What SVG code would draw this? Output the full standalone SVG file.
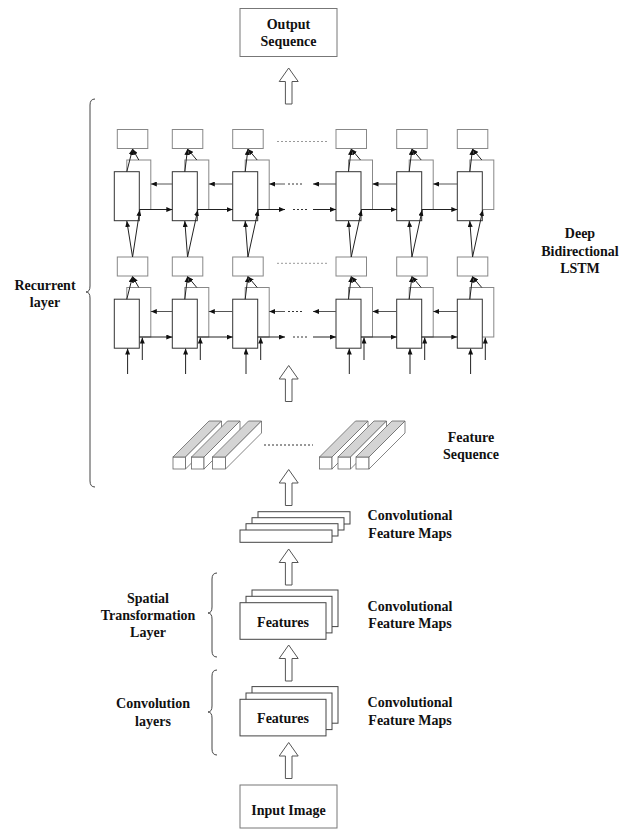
<svg xmlns="http://www.w3.org/2000/svg" width="620" height="829" viewBox="0 0 620 829">
<style>
.lbl{font-family:"Liberation Serif","Times New Roman",serif;font-weight:bold;font-size:14px;fill:#111;text-anchor:middle}
.box{fill:#fff;stroke:#777;stroke-width:1}
.front{fill:#fff;stroke:#333;stroke-width:1}
.back{fill:#fff;stroke:#888;stroke-width:1}
.obox{fill:#fff;stroke:#888;stroke-width:1}
.ln{stroke:#222;stroke-width:1;fill:none}
.lg{stroke:#555;stroke-width:1;fill:none}
.dot{stroke:#999;stroke-width:1;stroke-dasharray:2,2;fill:none}
.dotk{stroke:#333;stroke-width:1;stroke-dasharray:2,2;fill:none}
.blk{fill:#fff;stroke:#555;stroke-width:1}
.brace{fill:none;stroke:#444;stroke-width:1}
.top{fill:#d4d4d4;stroke:#666;stroke-width:0.8}
.side{fill:#fff;stroke:#666;stroke-width:0.8}
.map{fill:#fff;stroke:#444;stroke-width:1}
</style>
<defs>
<marker id="ah" markerWidth="6" markerHeight="5" refX="6" refY="2.5" orient="auto" markerUnits="userSpaceOnUse"><path d="M0,0 L6,2.5 L0,5 Z" fill="#111"/></marker>
<path id="blkarrow" d="M0,0 L9.5,13.5 L3.3,13.5 L3.3,36 L-3.3,36 L-3.3,13.5 L-9.5,13.5 Z"/>
</defs>
<rect width="620" height="829" fill="#fff"/>

<g id="output-sequence">
<rect class="box" x="240" y="8.5" width="97" height="48"/>
<text class="lbl" x="288.5" y="29">Output</text>
<text class="lbl" x="288.5" y="46">Sequence</text>
</g>

<!-- LSTM layer 1 -->
<g id="l1c1" transform="translate(114.3,129.5)"><rect class="obox" x="3" y="0" width="30.5" height="19"/><rect class="back" x="12.5" y="30.5" width="24" height="49.5"/><rect class="front" x="0" y="42.2" width="25" height="49"/></g>
<g id="l1c2" transform="translate(172.3,129.5)"><rect class="obox" x="0" y="0" width="30.5" height="19"/><rect class="back" x="12.5" y="30.5" width="24" height="49.5"/><rect class="front" x="0" y="42.2" width="25" height="49"/></g>
<g id="l1c3" transform="translate(232.7,129.5)"><rect class="obox" x="0" y="0" width="30.5" height="19"/><rect class="back" x="12.5" y="30.5" width="24" height="49.5"/><rect class="front" x="0" y="42.2" width="25" height="49"/></g>
<g id="l1c4" transform="translate(336,129.5)"><rect class="obox" x="0" y="0" width="30.5" height="19"/><rect class="back" x="12.5" y="30.5" width="24" height="49.5"/><rect class="front" x="0" y="42.2" width="25" height="49"/></g>
<g id="l1c5" transform="translate(396.7,129.5)"><rect class="obox" x="0" y="0" width="30.5" height="19"/><rect class="back" x="12.5" y="30.5" width="24" height="49.5"/><rect class="front" x="0" y="42.2" width="25" height="49"/></g>
<g id="l1c6" transform="translate(457.3,129.5)"><rect class="obox" x="0" y="0" width="30.5" height="19"/><rect class="back" x="12.5" y="30.5" width="24" height="49.5"/><rect class="front" x="0" y="42.2" width="25" height="49"/></g>

<!-- LSTM layer 2 -->
<g id="l2c1" transform="translate(114.3,257)"><rect class="obox" x="3" y="0" width="30.5" height="19"/><rect class="back" x="12.5" y="30.5" width="24" height="49.5"/><rect class="front" x="0" y="42.2" width="25" height="49"/></g>
<g id="l2c2" transform="translate(172.3,257)"><rect class="obox" x="0" y="0" width="30.5" height="19"/><rect class="back" x="12.5" y="30.5" width="24" height="49.5"/><rect class="front" x="0" y="42.2" width="25" height="49"/></g>
<g id="l2c3" transform="translate(232.7,257)"><rect class="obox" x="0" y="0" width="30.5" height="19"/><rect class="back" x="12.5" y="30.5" width="24" height="49.5"/><rect class="front" x="0" y="42.2" width="25" height="49"/></g>
<g id="l2c4" transform="translate(336,257)"><rect class="obox" x="0" y="0" width="30.5" height="19"/><rect class="back" x="12.5" y="30.5" width="24" height="49.5"/><rect class="front" x="0" y="42.2" width="25" height="49"/></g>
<g id="l2c5" transform="translate(396.7,257)"><rect class="obox" x="0" y="0" width="30.5" height="19"/><rect class="back" x="12.5" y="30.5" width="24" height="49.5"/><rect class="front" x="0" y="42.2" width="25" height="49"/></g>
<g id="l2c6" transform="translate(457.3,257)"><rect class="obox" x="0" y="0" width="30.5" height="19"/><rect class="back" x="12.5" y="30.5" width="24" height="49.5"/><rect class="front" x="0" y="42.2" width="25" height="49"/></g>

<g id="feature-sequence">
<rect class="side" x="173" y="457" width="12.5" height="12"/>
<polygon class="top" points="173,457 209,421 221.5,421 185.5,457"/>
<polygon class="side" points="185.5,457 221.5,421 221.5,433 185.5,469"/>
<rect class="side" x="191.5" y="457" width="12.5" height="12"/>
<polygon class="top" points="191.5,457 227.5,421 240,421 204,457"/>
<polygon class="side" points="204,457 240,421 240,433 204,469"/>
<rect class="side" x="212.5" y="457" width="13" height="12"/>
<polygon class="top" points="212.5,457 248.5,421 261.5,421 225.5,457"/>
<polygon class="side" points="225.5,457 261.5,421 261.5,433 225.5,469"/>
<line class="dotk" x1="264" y1="445" x2="313" y2="445" stroke-dasharray="1.5,1.5" stroke-width="1.5"/>
<rect class="side" x="319.5" y="457" width="12.5" height="12"/>
<polygon class="top" points="319.5,457 355.5,421 368,421 332,457"/>
<polygon class="side" points="332,457 368,421 368,433 332,469"/>
<rect class="side" x="338" y="457" width="12.5" height="12"/>
<polygon class="top" points="338,457 374,421 386.5,421 350.5,457"/>
<polygon class="side" points="350.5,457 386.5,421 386.5,433 350.5,469"/>
<rect class="side" x="356" y="457" width="13" height="12"/>
<polygon class="top" points="356,457 392,421 405,421 369,457"/>
<polygon class="side" points="369,457 405,421 405,433 369,469"/>
</g>

<g id="conv-feature-maps-3">
<rect class="map" x="258" y="511.7" width="92" height="12.3"/>
<rect class="map" x="252" y="517.7" width="92" height="12.3"/>
<rect class="map" x="246" y="523.7" width="92" height="12.3"/>
<rect class="map" x="240" y="530" width="92" height="12.3"/>
</g>

<g id="features-stn">
<rect class="map" x="252" y="590" width="86" height="36.6"/>
<rect class="map" x="246" y="596.3" width="86" height="36.6"/>
<rect class="map" x="240" y="602.7" width="86" height="36.6"/>
<text class="lbl" x="283" y="626.5">Features</text>
</g>

<g id="features-conv">
<rect class="map" x="252" y="686.6" width="86" height="36.6"/>
<rect class="map" x="246" y="693" width="86" height="36.6"/>
<rect class="map" x="240" y="699.3" width="86" height="36.6"/>
<text class="lbl" x="283" y="723">Features</text>
</g>

<g id="input-image">
<rect class="box" x="240" y="785" width="97" height="43"/>
<text class="lbl" x="288.5" y="815">Input Image</text>
</g>

<g id="labels">
<text class="lbl" x="45" y="289.5">Recurrent</text>
<text class="lbl" x="45" y="306.5">layer</text>
<text class="lbl" x="580" y="238">Deep</text>
<text class="lbl" x="580" y="255.7">Bidirectional</text>
<text class="lbl" x="580" y="273.4">LSTM</text>
<text class="lbl" x="471" y="441.7">Feature</text>
<text class="lbl" x="471" y="459">Sequence</text>
<text class="lbl" x="410" y="520">Convolutional</text>
<text class="lbl" x="410" y="537.5">Feature Maps</text>
<text class="lbl" x="410" y="610.7">Convolutional</text>
<text class="lbl" x="410" y="628.3">Feature Maps</text>
<text class="lbl" x="410" y="707.3">Convolutional</text>
<text class="lbl" x="410" y="725">Feature Maps</text>
<text class="lbl" x="148" y="602.7">Spatial</text>
<text class="lbl" x="148" y="620">Transformation</text>
<text class="lbl" x="148" y="637.3">Layer</text>
<text class="lbl" x="153" y="708.3">Convolution</text>
<text class="lbl" x="153" y="726">layers</text>
</g>

<g id="braces">
<path class="brace" d="M95,99 Q90,99 90,105 L90,286 Q90,292 86,292 Q90,292 90,298 L90,481 Q90,487 95,487"/>
<path class="brace" d="M217,573 Q212,573 212,579 L212,607 Q212,613 208,613 Q212,613 212,619 L212,651 Q212,657 217,657"/>
<path class="brace" d="M217,670 Q212,670 212,676 L212,706 Q212,712 208,712 Q212,712 212,718 L212,749 Q212,755 217,755"/>
</g>

<g id="connectors">
<!-- block arrows -->
<use href="#blkarrow" class="blk" transform="translate(288.7,68)"/>
<use href="#blkarrow" class="blk" transform="translate(288.7,365.5)"/>
<use href="#blkarrow" class="blk" transform="translate(288.7,469.5)"/>
<use href="#blkarrow" class="blk" transform="translate(288.7,549)"/>
<use href="#blkarrow" class="blk" transform="translate(288.7,645)"/>
<use href="#blkarrow" class="blk" transform="translate(288.7,742.5)"/>

<!-- layer 1: cells to outputs -->
<g class="ln" marker-end="url(#ah)">
<line x1="126.8" y1="171.7" x2="132.55" y2="149"/><line x1="138.8" y1="160" x2="132.55" y2="149"/>
<line x1="184.8" y1="171.7" x2="187.55" y2="149"/><line x1="196.8" y1="160" x2="187.55" y2="149"/>
<line x1="245.2" y1="171.7" x2="247.95" y2="149"/><line x1="257.2" y1="160" x2="247.95" y2="149"/>
<line x1="348.5" y1="171.7" x2="351.25" y2="149"/><line x1="360.5" y1="160" x2="351.25" y2="149"/>
<line x1="409.2" y1="171.7" x2="411.95" y2="149"/><line x1="421.2" y1="160" x2="411.95" y2="149"/>
<line x1="469.8" y1="171.7" x2="472.55" y2="149"/><line x1="481.8" y1="160" x2="472.55" y2="149"/>
</g>
<!-- layer 2: cells to outputs -->
<g class="ln" marker-end="url(#ah)">
<line x1="126.8" y1="299.2" x2="132.55" y2="276.5"/><line x1="138.8" y1="287.5" x2="132.55" y2="276.5"/>
<line x1="184.8" y1="299.2" x2="187.55" y2="276.5"/><line x1="196.8" y1="287.5" x2="187.55" y2="276.5"/>
<line x1="245.2" y1="299.2" x2="247.95" y2="276.5"/><line x1="257.2" y1="287.5" x2="247.95" y2="276.5"/>
<line x1="348.5" y1="299.2" x2="351.25" y2="276.5"/><line x1="360.5" y1="287.5" x2="351.25" y2="276.5"/>
<line x1="409.2" y1="299.2" x2="411.95" y2="276.5"/><line x1="421.2" y1="287.5" x2="411.95" y2="276.5"/>
<line x1="469.8" y1="299.2" x2="472.55" y2="276.5"/><line x1="481.8" y1="287.5" x2="472.55" y2="276.5"/>
</g>
<!-- layer 2 outputs to layer 1 inputs -->
<g class="ln" marker-end="url(#ah)">
<line x1="132.55" y1="257" x2="126.8" y2="221"/><line x1="132.55" y1="257" x2="139.8" y2="210"/>
<line x1="187.55" y1="257" x2="184.8" y2="221"/><line x1="187.55" y1="257" x2="197.8" y2="210"/>
<line x1="247.95" y1="257" x2="245.2" y2="221"/><line x1="247.95" y1="257" x2="258.2" y2="210"/>
<line x1="351.25" y1="257" x2="348.5" y2="221"/><line x1="351.25" y1="257" x2="361.5" y2="210"/>
<line x1="411.95" y1="257" x2="409.2" y2="221"/><line x1="411.95" y1="257" x2="422.2" y2="210"/>
<line x1="472.55" y1="257" x2="469.8" y2="221"/><line x1="472.55" y1="257" x2="482.8" y2="210"/>
</g>
<!-- layer 2 inputs -->
<g class="ln" marker-end="url(#ah)">
<line x1="127.6" y1="374" x2="127.6" y2="348.5"/><line x1="142.3" y1="360" x2="142.3" y2="337.5"/>
<line x1="185.6" y1="374" x2="185.6" y2="348.5"/><line x1="200.3" y1="360" x2="200.3" y2="337.5"/>
<line x1="246" y1="374" x2="246" y2="348.5"/><line x1="260.7" y1="360" x2="260.7" y2="337.5"/>
<line x1="349.3" y1="374" x2="349.3" y2="348.5"/><line x1="364" y1="360" x2="364" y2="337.5"/>
<line x1="410" y1="374" x2="410" y2="348.5"/><line x1="424.7" y1="360" x2="424.7" y2="337.5"/>
<line x1="470.6" y1="374" x2="470.6" y2="348.5"/><line x1="485.3" y1="360" x2="485.3" y2="337.5"/>
</g>
<!-- backward arrows -->
<g class="lg" marker-end="url(#ah)">
<line x1="172.3" y1="184" x2="150.8" y2="184"/>
<line x1="232.7" y1="184" x2="208.8" y2="184"/>
<line x1="285" y1="184" x2="269.2" y2="184"/>
<line x1="336" y1="184" x2="313" y2="184"/>
<line x1="396.7" y1="184" x2="372.5" y2="184"/>
<line x1="457.3" y1="184" x2="433.2" y2="184"/>
<line x1="172.3" y1="311.5" x2="150.8" y2="311.5"/>
<line x1="232.7" y1="311.5" x2="208.8" y2="311.5"/>
<line x1="285" y1="311.5" x2="269.2" y2="311.5"/>
<line x1="336" y1="311.5" x2="313" y2="311.5"/>
<line x1="396.7" y1="311.5" x2="372.5" y2="311.5"/>
<line x1="457.3" y1="311.5" x2="433.2" y2="311.5"/>
</g>
<!-- forward arrows -->
<g class="ln" marker-end="url(#ah)">
<line x1="139.3" y1="209.5" x2="172.3" y2="209.5"/>
<line x1="197.3" y1="209.5" x2="232.7" y2="209.5"/>
<line x1="257.7" y1="209.5" x2="285" y2="209.5"/>
<line x1="313" y1="209.5" x2="336" y2="209.5"/>
<line x1="361" y1="209.5" x2="396.7" y2="209.5"/>
<line x1="421.7" y1="209.5" x2="457.3" y2="209.5"/>
<line x1="139.3" y1="337" x2="172.3" y2="337"/>
<line x1="197.3" y1="337" x2="232.7" y2="337"/>
<line x1="257.7" y1="337" x2="285" y2="337"/>
<line x1="313" y1="337" x2="336" y2="337"/>
<line x1="361" y1="337" x2="396.7" y2="337"/>
<line x1="421.7" y1="337" x2="457.3" y2="337"/>
</g>
<!-- dotted continuations -->
<line class="dot" x1="277" y1="141.5" x2="327" y2="141.5"/>
<line class="dot" x1="277" y1="263.3" x2="327" y2="263.3"/>
<line class="dotk" x1="288" y1="184" x2="304" y2="184"/>
<line class="dotk" x1="293" y1="209.5" x2="307" y2="209.5"/>
<line class="dotk" x1="288" y1="311.5" x2="304" y2="311.5"/>
<line class="dotk" x1="293" y1="337" x2="307" y2="337"/>
</g>
</svg>
